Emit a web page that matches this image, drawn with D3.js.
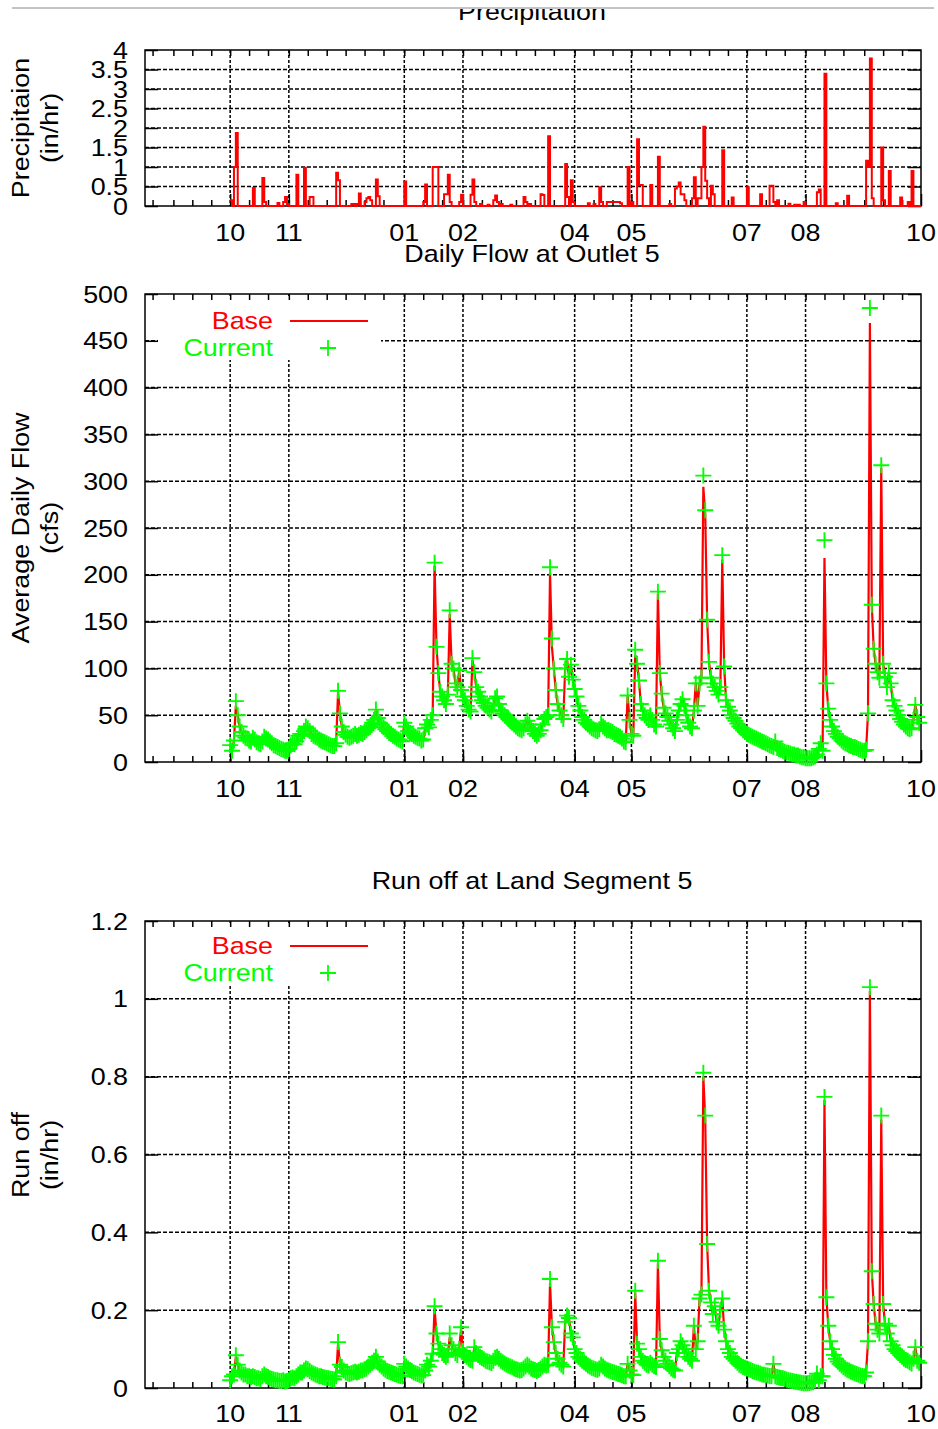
<!DOCTYPE html>
<html>
<head>
<meta charset="utf-8">
<script src="https://cdn.jsdelivr.net/npm/d3@7"></script>
<style>
  body { margin: 0; background: #fff; }
  text { font-family: "Liberation Sans", Arial, sans-serif; font-size: 24px; }
</style>
</head>
<body>
<svg id="chart" width="938" height="1429"></svg>
<script>
// ---- data (day 0 = 1 Oct 2004) ----
const monthLabels = ["10", "11", "01", "02", "04", "05", "07", "08", "10"];
const monthTickMonths = [[2004, 9], [2004, 10], [2005, 0], [2005, 1], [2005, 3], [2005, 4], [2005, 6], [2005, 7], [2005, 9]];

// precipitation (in/hr), only days with rain
const precipDays = [0, 2, 3, 12, 17, 18, 25, 28, 29, 30, 35, 39, 42, 43, 56, 57, 64, 65, 67, 68,
  71, 72, 73, 74, 77, 78, 92, 102, 103, 107, 108, 109, 113, 114, 115, 116, 121, 122, 127, 128,
  129, 132, 136, 139, 140, 141, 143, 148, 155, 156, 158, 164, 165, 168, 177, 178, 180, 181, 189, 192,
  195, 196, 199, 200, 201, 202, 203, 204, 205, 206, 210, 212, 215, 216, 217, 222, 226, 232, 235, 236,
  237, 238, 239, 240, 244, 245, 247, 248, 249, 250, 251, 252, 254, 255, 260, 265, 273, 280, 285, 286,
  287, 289, 295, 298, 300, 303, 310, 311, 314, 320, 326, 336, 337, 338, 339, 344, 345, 348, 354, 358, 360];
const precipValues = [0.15, 1.0, 1.87, 0.46, 0.72, 0.1, 0.08, 0.1, 0.23, 0.05, 0.8, 0.98, 0.23, 0.23, 0.85, 0.66, 0.05, 0.05, 0.05, 0.32,
  0.1, 0.2, 0.23, 0.15, 0.68, 0.25, 0.63, 0.1, 0.55, 1.0, 1.0, 1.0, 0.3, 0.3, 0.8, 0.1, 0.1, 0.29, 0.29, 0.68,
  0.1, 0.05, 0.03, 0.15, 0.27, 0.1, 0.05, 0.03, 0.23, 0.1, 0.05, 0.3, 0.28, 1.79, 1.08, 0.23, 0.66, 0.1, 0.07, 0.05,
  0.48, 0.1, 0.1, 0.1, 0.1, 0.1, 0.1, 0.1, 0.1, 0.07, 1.0, 0.1, 1.71, 0.54, 0.54, 0.54, 1.26, 0.05, 0.45, 0.5,
  0.6, 0.3, 0.3, 0.15, 0.2, 0.74, 0.2, 0.2, 1.0, 2.03, 0.65, 0.2, 0.52, 0.3, 1.43, 0.22, 0.48, 0.3, 0.52, 0.52,
  0.1, 0.15, 0.06, 0.03, 0.03, 0.1, 0.35, 0.42, 3.39, 0.07, 0.26, 1.16, 1.0, 3.78, 0.2, 1.5, 0.15, 0.9, 0.22, 0.1, 0.9];
const precipDaysTotal = 365;

// average daily flow (cfs), current scenario, one value per day
const flowCurrent = [
  18, 12, 23, 65, 50, 38, 32, 28, 26, 25,
  23, 22, 26, 24, 21, 20, 19, 22, 27, 25,
  24, 22, 20, 18, 17, 16, 15, 14, 13, 12,
  12, 14, 18, 20, 19, 22, 28, 30, 29, 33,
  38, 36, 33, 30, 28, 27, 26, 24, 23, 22,
  21, 20, 19, 18, 17, 17, 20, 76, 52, 38,
  32, 29, 27, 26, 27, 28, 30, 28, 29, 31,
  30, 32, 34, 36, 38, 42, 45, 56, 47, 42,
  40, 37, 35, 33, 31, 30, 28, 27, 25, 24,
  23, 22, 42, 38, 33, 31, 30, 28, 27, 26,
  25, 23, 24, 36, 40, 37, 45, 50, 213, 123,
  95, 75, 70, 66, 62, 72, 162, 105, 100, 84,
  80, 98, 77, 70, 66, 60, 56, 54, 111, 96,
  80, 75, 70, 66, 63, 60, 58, 56, 54, 60,
  68, 70, 62, 55, 52, 50, 48, 46, 44, 42,
  40, 38, 36, 35, 34, 36, 40, 44, 40, 36,
  33, 30, 28, 30, 34, 40, 46, 48, 50, 208,
  132, 100, 77, 62, 55, 50, 46, 100, 110, 91,
  104, 88, 78, 70, 60, 55, 48, 45, 42, 40,
  38, 36, 35, 34, 33, 35, 41, 38, 36, 34,
  34, 33, 32, 30, 29, 28, 27, 25, 22, 21,
  71, 45, 30, 28, 120, 105, 87, 62, 55, 50,
  47, 45, 50, 45, 40, 38, 182, 95, 73, 58,
  52, 48, 44, 40, 36, 33, 45, 55, 62, 67,
  60, 50, 42, 38, 36, 55, 84, 60, 84, 90,
  306, 269, 152, 107, 90, 84, 80, 76, 72, 80,
  221, 102, 66, 59, 55, 50, 47, 44, 41, 38,
  36, 34, 32, 30, 29, 28, 27, 26, 25, 24,
  23, 22, 21, 20, 19, 18, 17, 16, 22, 15,
  14, 13, 12, 11, 10, 10, 9, 8, 8, 7,
  7, 6, 5, 5, 4, 4, 4, 4, 5, 6,
  8, 14, 20, 12, 237, 84, 57, 45, 38, 33,
  30, 27, 25, 23, 21, 20, 19, 18, 17, 16,
  16, 15, 14, 13, 12, 12, 13, 52, 485, 168,
  121, 105, 96, 90, 317, 105, 91, 80, 95, 84,
  66, 60, 55, 50, 46, 43, 40, 38, 36, 35,
  36, 45, 61, 48, 42];
// base scenario differs from current only on these peak days
const flowBasePeakDays = [3, 57, 108, 116, 128, 169, 170, 214, 226, 250, 251, 260, 314, 338, 344];
const flowBasePeakValues = [60, 75, 210, 158, 109, 202, 123, 114, 180, 294, 264, 216, 218, 469, 314];

// run off (in/hr), current scenario, one value per day
const runoffCurrent = [
  0.02, 0.03, 0.035, 0.084, 0.06, 0.045, 0.04, 0.035, 0.035, 0.03,
  0.03, 0.028, 0.03, 0.028, 0.025, 0.025, 0.023, 0.03, 0.035, 0.03,
  0.028, 0.025, 0.023, 0.022, 0.02, 0.02, 0.018, 0.018, 0.02, 0.017,
  0.018, 0.02, 0.025, 0.027, 0.025, 0.03, 0.035, 0.04, 0.04, 0.045,
  0.05, 0.048, 0.044, 0.04, 0.037, 0.035, 0.033, 0.03, 0.03, 0.028,
  0.027, 0.026, 0.025, 0.024, 0.023, 0.022, 0.03, 0.118, 0.06, 0.054,
  0.045, 0.04, 0.038, 0.036, 0.038, 0.04, 0.042, 0.04, 0.042, 0.045,
  0.045, 0.048, 0.05, 0.055, 0.06, 0.065, 0.07, 0.08, 0.068, 0.06,
  0.055, 0.05, 0.047, 0.044, 0.042, 0.04, 0.038, 0.036, 0.034, 0.032,
  0.031, 0.03, 0.062, 0.055, 0.05, 0.046, 0.043, 0.04, 0.038, 0.036,
  0.034, 0.032, 0.033, 0.045, 0.06, 0.055, 0.07, 0.088, 0.21, 0.14,
  0.114, 0.1, 0.09, 0.085, 0.08, 0.085, 0.14, 0.11, 0.1, 0.09,
  0.085, 0.1, 0.156, 0.095, 0.085, 0.08, 0.075, 0.072, 0.07, 0.105,
  0.09, 0.085, 0.08, 0.077, 0.074, 0.07, 0.068, 0.066, 0.064, 0.07,
  0.078, 0.08, 0.075, 0.07, 0.066, 0.063, 0.06, 0.058, 0.055, 0.053,
  0.05, 0.048, 0.047, 0.045, 0.046, 0.05, 0.055, 0.06, 0.055, 0.05,
  0.048, 0.046, 0.044, 0.046, 0.05, 0.055, 0.06, 0.058, 0.06, 0.28,
  0.156, 0.118, 0.09, 0.075, 0.065, 0.06, 0.055, 0.17, 0.186, 0.18,
  0.14, 0.13, 0.1, 0.09, 0.08, 0.075, 0.07, 0.066, 0.062, 0.058,
  0.055, 0.052, 0.05, 0.048, 0.047, 0.05, 0.06, 0.055, 0.05, 0.047,
  0.045, 0.043, 0.041, 0.04, 0.038, 0.036, 0.035, 0.033, 0.03, 0.03,
  0.062, 0.045, 0.035, 0.033, 0.25, 0.114, 0.1, 0.08, 0.07, 0.065,
  0.06, 0.058, 0.065, 0.06, 0.056, 0.054, 0.327, 0.126, 0.097, 0.08,
  0.07, 0.062, 0.056, 0.05, 0.047, 0.045, 0.09, 0.1, 0.12, 0.11,
  0.1, 0.09, 0.08, 0.075, 0.07, 0.16, 0.1, 0.12, 0.23, 0.24,
  0.81, 0.70, 0.37, 0.25, 0.22, 0.19, 0.21, 0.17, 0.16, 0.2,
  0.23, 0.15, 0.12, 0.1, 0.09, 0.08, 0.075, 0.07, 0.065, 0.06,
  0.057, 0.054, 0.052, 0.05, 0.048, 0.046, 0.044, 0.042, 0.04, 0.039,
  0.037, 0.035, 0.034, 0.033, 0.032, 0.031, 0.03, 0.062, 0.03, 0.028,
  0.027, 0.026, 0.025, 0.024, 0.022, 0.02, 0.019, 0.018, 0.017, 0.016,
  0.015, 0.014, 0.013, 0.012, 0.012, 0.012, 0.013, 0.014, 0.015, 0.02,
  0.037, 0.02, 0.03, 0.03, 0.748, 0.233, 0.16, 0.12, 0.1, 0.085,
  0.075, 0.068, 0.062, 0.058, 0.054, 0.05, 0.047, 0.045, 0.042, 0.04,
  0.038, 0.036, 0.034, 0.032, 0.031, 0.03, 0.04, 0.12, 1.03, 0.3,
  0.216, 0.165, 0.15, 0.14, 0.70, 0.216, 0.165, 0.14, 0.16, 0.12,
  0.11, 0.1, 0.095, 0.09, 0.085, 0.08, 0.075, 0.072, 0.07, 0.066,
  0.063, 0.075, 0.105, 0.07, 0.065];
const runoffBasePeakDays = [3, 57, 108, 116, 122, 169, 214, 226, 250, 251, 314, 338, 344];
const runoffBasePeakValues = [0.08, 0.114, 0.205, 0.13, 0.152, 0.27, 0.245, 0.32, 0.80, 0.69, 0.74, 1.02, 0.69];

const precipTicks = [0, 0.5, 1, 1.5, 2, 2.5, 3, 3.5, 4];
const flowTicks = [0, 50, 100, 150, 200, 250, 300, 350, 400, 450, 500];
const runoffTicks = [0, 0.2, 0.4, 0.6, 0.8, 1, 1.2];

// ---- helpers ----
const RED = "#ff0000", GREEN = "#00ff00";
const STRETCH = "scale(1.12,1)";
const PLUS = "M-8,0H8M0,-8V8";
const svg = d3.select("#chart");

const dayDate = d => new Date(Date.UTC(2004, 9, 1 + d));
const monthDates = monthTickMonths.map(m => new Date(Date.UTC(m[0], m[1], 1)));

const x = d3.scaleUtc()
  .domain([new Date(Date.UTC(2004, 7, 17)), new Date(Date.UTC(2005, 9, 1))])
  .range([145, 921]);

// minor ticks on the 1st, 11th and 21st of each month
let minorTicks = [];
d3.utcMonth.range(new Date(Date.UTC(2004, 7, 1)), new Date(Date.UTC(2005, 9, 1))).forEach(m => {
  [1, 11, 21].forEach(day => {
    let t = new Date(Date.UTC(m.getUTCFullYear(), m.getUTCMonth(), day));
    if (t > x.domain()[0] && t < x.domain()[1]) minorTicks.push(t);
  });
});

function withBase(current, peakDays, peakValues) {
  let base = current.slice();
  peakDays.forEach((d, i) => { base[d] = peakValues[i]; });
  return base;
}

function drawPanel(p) {
  let y = d3.scaleLinear().domain([p.yTicks[0], p.yTicks[p.yTicks.length - 1]]).range([p.bottom, p.top]);
  let g = svg.append("g");

  // dashed grid
  g.selectAll(".hgrid").data(p.yTicks.slice(1, -1)).join("line")
    .attr("x1", 145).attr("x2", 921)
    .attr("y1", v => y(v)).attr("y2", v => y(v))
    .attr("stroke", "#000").attr("stroke-width", 1.5).attr("stroke-dasharray", "4,2");
  g.selectAll(".vgrid").data(monthDates.slice(0, -1)).join("line")
    .attr("x1", d => x(d)).attr("x2", d => x(d))
    .attr("y1", p.top).attr("y2", p.bottom)
    .attr("stroke", "#000").attr("stroke-width", 1.5).attr("stroke-dasharray", "3,2");

  // legend background hides the grid
  if (p.legendTop) {
    g.append("rect").attr("x", 158).attr("y", p.legendTop)
      .attr("width", 223).attr("height", p.legendBottom - p.legendTop).attr("fill", "#fff");
  }

  // axes: ticks only, pointing inward
  g.append("g").attr("transform", "translate(145,0)")
    .call(d3.axisLeft(y).tickValues(p.yTicks).tickSize(-13).tickFormat(""));
  g.append("g").attr("transform", "translate(921,0)")
    .call(d3.axisRight(y).tickValues(p.yTicks).tickSize(-13).tickFormat(""));
  g.append("g").attr("transform", `translate(0,${p.bottom})`)
    .call(d3.axisBottom(x).tickValues(minorTicks).tickSize(-6).tickFormat(""));
  g.append("g").attr("transform", `translate(0,${p.top})`)
    .call(d3.axisTop(x).tickValues(minorTicks).tickSize(-6).tickFormat(""));
  g.append("g").attr("transform", `translate(0,${p.bottom})`)
    .call(d3.axisBottom(x).tickValues(monthDates).tickSize(-12).tickFormat(""));
  g.selectAll(".domain").remove();
  g.selectAll(".tick line").attr("stroke", "#000").attr("stroke-width", 1.5);

  g.append("rect").attr("x", 145).attr("y", p.top)
    .attr("width", 776).attr("height", p.bottom - p.top)
    .attr("fill", "none").attr("stroke", "#000").attr("stroke-width", 1.5);

  // tick labels
  g.selectAll(".ylab").data(p.yTicks).join("text")
    .attr("transform", v => `translate(128,${y(v) + 8.5}) ${STRETCH}`)
    .attr("text-anchor", "end").attr("fill", "#000")
    .text(v => String(v));
  g.selectAll(".xlab").data(monthDates).join("text")
    .attr("transform", (d, i) => `translate(${x(d)},${p.xLabelY}) ${STRETCH}`)
    .attr("text-anchor", "middle").attr("fill", "#000")
    .text((d, i) => monthLabels[i]);

  // axis title (two lines, rotated)
  p.yTitle.forEach((line, i) => {
    g.append("text")
      .attr("transform", `translate(${29 + i * 29},${p.yTitleCenter}) rotate(-90) ${STRETCH}`)
      .attr("text-anchor", "middle").attr("fill", "#000").text(line);
  });

  // panel title
  let holder = g.append("g");
  if (p.titleClip) holder.attr("clip-path", "url(#titleClip)");
  holder.append("text")
    .attr("transform", `translate(532,${p.titleY}) ${STRETCH}`)
    .attr("text-anchor", "middle").attr("fill", "#000").text(p.title);

  return { g: g, y: y };
}

function drawLegend(g, baseY) {
  g.append("text").attr("transform", `translate(273,${baseY + 8}) ${STRETCH}`)
    .attr("text-anchor", "end").attr("fill", RED).text("Base");
  g.append("line").attr("x1", 290).attr("x2", 368).attr("y1", baseY).attr("y2", baseY)
    .attr("stroke", RED).attr("stroke-width", 2);
  g.append("text").attr("transform", `translate(273,${baseY + 35}) ${STRETCH}`)
    .attr("text-anchor", "end").attr("fill", GREEN).text("Current");
  g.append("path").attr("d", PLUS)
    .attr("transform", `translate(328,${baseY + 27})`)
    .attr("stroke", GREEN).attr("stroke-width", 1.8).attr("fill", "none");
}

function drawSeries(panel, current, base) {
  let line = d3.line().x((v, i) => x(dayDate(i))).y(v => panel.y(v));
  panel.g.append("path").attr("d", line(base))
    .attr("fill", "none").attr("stroke", RED).attr("stroke-width", 2.2);
  panel.g.selectAll(".pt").data(current).join("path")
    .attr("d", PLUS)
    .attr("transform", (v, i) => `translate(${x(dayDate(i))},${panel.y(v)})`)
    .attr("stroke", GREEN).attr("stroke-width", 1.9).attr("fill", "none");
}

// clip for the cut-off top title
svg.append("defs").append("clipPath").attr("id", "titleClip")
  .append("rect").attr("x", 0).attr("y", 9).attr("width", 938).attr("height", 40);
svg.append("line").attr("x1", 12).attr("x2", 934).attr("y1", 8).attr("y2", 8)
  .attr("stroke", "#888").attr("stroke-width", 1);

// ---- precipitation panel ----
let precip = drawPanel({
  top: 50, bottom: 206, yTicks: precipTicks, xLabelY: 241,
  yTitle: ["Precipitaion", "(in/hr)"], yTitleCenter: 128,
  title: "Precipitation", titleY: 20, titleClip: true
});
let precipByDay = new Map(precipDays.map((d, i) => [d, precipValues[i]]));
let precipSteps = d3.range(precipDaysTotal + 1).map(d => [d, precipByDay.get(d) || 0]);
precip.g.append("path")
  .attr("d", d3.line().curve(d3.curveStepAfter)
    .x(s => x(dayDate(s[0]))).y(s => precip.y(s[1]))(precipSteps))
  .attr("fill", "none").attr("stroke", RED).attr("stroke-width", 2);

// ---- daily flow panel ----
let flow = drawPanel({
  top: 294, bottom: 762, yTicks: flowTicks, xLabelY: 797,
  yTitle: ["Average Daily Flow", "(cfs)"], yTitleCenter: 528,
  title: "Daily Flow at Outlet 5", titleY: 262,
  legendTop: 296, legendBottom: 360
});
drawSeries(flow, flowCurrent, withBase(flowCurrent, flowBasePeakDays, flowBasePeakValues));
drawLegend(flow.g, 321);

// ---- run off panel ----
let runoff = drawPanel({
  top: 921, bottom: 1388, yTicks: runoffTicks, xLabelY: 1422,
  yTitle: ["Run off", "(in/hr)"], yTitleCenter: 1155,
  title: "Run off at Land Segment 5", titleY: 889,
  legendTop: 923, legendBottom: 986
});
drawSeries(runoff, runoffCurrent, withBase(runoffCurrent, runoffBasePeakDays, runoffBasePeakValues));
drawLegend(runoff.g, 946);
</script>
</body>
</html>
